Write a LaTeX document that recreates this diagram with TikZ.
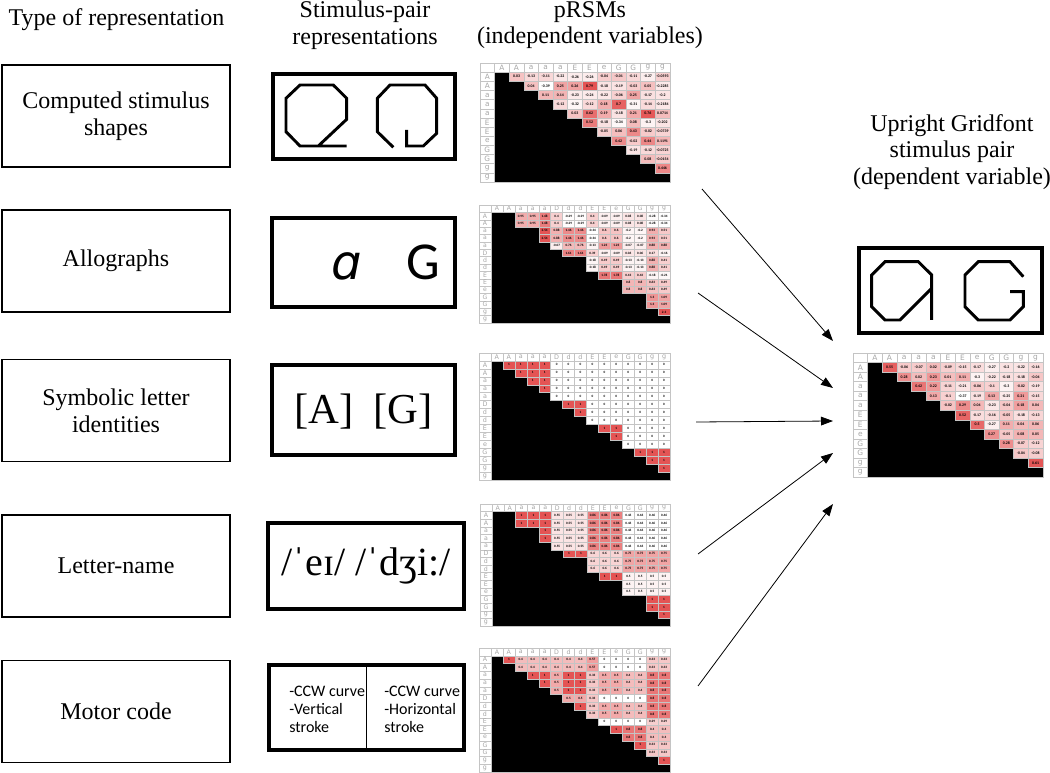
\documentclass[tikz,border=0pt]{standalone}
\usepackage{fontspec}
\setmainfont{Liberation Serif}
\newfontfamily\calib{Carlito}
\newfontfamily\dvs{DejaVu Sans}
\usetikzlibrary{arrows.meta}
\definecolor{cellred}{RGB}{228,84,84}
\definecolor{gridgray}{RGB}{196,196,196}

\def\itemsA{A,A,a,a,a,E,E,e,G,G,g,g}
\def\itemsB{A,A,a,a,a,D,d,d,E,E,e,G,G,g,g}

\newcommand\rsmframe[2]{%
  \fill (\cw,\ch) rectangle ({(#1+1)*\cw},{(#1+1)*\ch});
  \draw[gridgray,line width=0.3pt] (0,0) rectangle ++(\cw,\ch);
  \foreach \l [count=\k] in #2 {
    \draw[gridgray,line width=0.3pt] (\k*\cw,0) rectangle ++(\cw,\ch) (0,\k*\ch) rectangle ++(\cw,\ch);
    \node[cellhead] (\mname-h\k) at ({(\k+0.5)*\cw},{0.5*\ch}) {\l};
    \node[cellhead] (\mname-r\k) at ({0.5*\cw},{(\k+0.5)*\ch}) {\l};
  }
  \draw[gridgray,line width=0.4pt] (0,0) rectangle ({(#1+1)*\cw},{(#1+1)*\ch});
}
\newcommand\mrow[3]{%
  \foreach \v [count=\c from #2] in {#3} {
    \pgfmathtruncatemacro\pct{max(0,min(100,((\v)-(\lo))/((\hi)-(\lo))*100))}
    \draw[gridgray,line width=0.3pt,fill=cellred!\pct!white] (\c*\cw,#1*\ch) rectangle ++(\cw,\ch);
    \node[cellval] (\mname-#1-\c) at ({(\c+0.5)*\cw},{(#1+0.5)*\ch}) {\v};
  }
}

\begin{document}
\begin{tikzpicture}[x=0.75pt,y=-0.75pt,
  hdr/.style={align=center,font=\fontsize{18}{20}\selectfont},
  typebox/.style={draw,line width=0.9pt,minimum width=171pt,minimum height=76.5pt,align=center,font=\fontsize{18}{20}\selectfont},
  stimbox/.style={draw,line width=3pt,inner sep=0pt},
  glyph/.style={line width=2.2pt,miter limit=4},
  motor/.style={align=left,inner sep=0pt,font=\calib\fontsize{12}{13.5}\selectfont},
  cellhead/.style={inner sep=0pt,text=gray!70,font=\dvs\fontsize{\lsize}{\lsize}\selectfont},
  cellval/.style={inner sep=0pt,font=\calib\bfseries\fontsize{\vsize}{\vsize}\selectfont},
  link/.style={-{Triangle[length=9pt,width=6.5pt]},line width=0.6pt}]
\useasboundingbox (0,0) rectangle (1050,773);

\node[hdr,anchor=west] (h1) at (4,20) {Type of representation};
\node[hdr] (h2) at (365,25) {Stimulus-pair\\representations};
\node[hdr] (h3) at (590,25) {pRSMs\\(independent variables)};
\node[hdr] (h4) at (952,152) {Upright Gridfont\\stimulus pair\\(dependent variable)};

\node[typebox] (t1) at (116,116) {Computed stimulus\\shapes};
\node[typebox] (t2) at (116,261) {Allographs};
\node[typebox] (t3) at (116,410.5) {Symbolic letter\\identities};
\node[typebox] (t4) at (116,566) {Letter-name};
\node[typebox] (t5) at (116,711.5) {Motor code};

\node[stimbox,minimum width=136.5pt,minimum height=63.75pt] (s1) at (364,116.5) {};
\draw[glyph] (346.7,146) -- (300,146) -- (286,131.7) -- (286,98.3) -- (300,85) -- (333.3,85) -- (346.7,98.3) -- (346.7,119.3) -- (318.3,146);
\draw[glyph] (393.3,147.3) -- (377.3,131.7) -- (377.3,98.3) -- (390,85) -- (425,85) -- (436.7,98.3) -- (436.7,133.3) -- (423.3,146) -- (406.7,146) -- (406.7,130);

\node[stimbox,minimum width=137pt,minimum height=66.75pt] (s2) at (363.5,262.5) {};
\node[anchor=base] (s2a) at (347,280) {\dvs\itshape\fontsize{36}{36}\selectfont ɑ};
\node[anchor=base] (s2g) at (423,280) {\calib\fontsize{40}{40}\selectfont G};

\node[stimbox,minimum width=137pt,minimum height=67.5pt] (s3) at (363.5,410) {};
\node (s3t) at (363.5,412) {\fontsize{32}{32}\selectfont [A]\hspace{0.45em}[G]};

\node[stimbox,minimum width=147pt,minimum height=64.5pt] (s4) at (366,566) {};
\node (s4t) at (366,566) {\fontsize{30}{30}\selectfont /ˈeɪ/ /ˈdʒi:/};

\node[stimbox,minimum width=146pt,minimum height=63.75pt] (s5) at (366.5,707.5) {};
\draw[line width=1.2pt] (s5.north) -- (s5.south);
\node[motor,anchor=west] (s5l) at (289,709) {-CCW curve\\-Vertical\\stroke};
\node[motor,anchor=west] (s5r) at (384,709) {-CCW curve\\-Horizontal\\stroke};

\node[stimbox,minimum width=137pt,minimum height=63.75pt] (dv) at (950.5,290.5) {};
\draw[glyph] (931.7,320) -- (931.7,275) -- (918.3,261.7) -- (885,261.7) -- (871.7,275) -- (871.7,306.7) -- (885,320) -- (900,320) -- (931.7,288.3);
\draw[glyph] (1023.3,276.7) -- (1010,261.7) -- (978.3,261.7) -- (965,275) -- (965,306.7) -- (978.3,320) -- (1010,320) -- (1023.3,306.7) -- (1023.3,291.7) -- (1010,291.7);

\begin{scope}[shift={(480,63)}]
\def\mname{ma}\def\cw{14.6}\def\ch{9.15}\def\lo{-0.39}\def\hi{0.79}\def\vsize{2.9}\def\lsize{5.5}
\rsmframe{12}{\itemsA}
\mrow{1}{2}{0.03,-0.13,-0.11,-0.22,-0.26,-0.26,-0.04,-0.01,-0.11,-0.27,-0.0593}
\mrow{2}{3}{0.04,-0.39,0.25,0.26,0.79,-0.18,-0.19,-0.03,0.05,-0.2285}
\mrow{3}{4}{0.11,0.14,-0.23,-0.24,-0.22,-0.06,0.25,-0.17,-0.2}
\mrow{4}{5}{-0.12,-0.32,-0.12,0.18,0.7,-0.31,-0.14,-0.2184}
\mrow{5}{6}{0.03,0.62,0.19,-0.18,0.21,0.76,0.0714}
\mrow{6}{7}{0.52,-0.18,-0.34,0.08,-0.3,-0.202}
\mrow{7}{8}{-0.05,0.06,0.43,-0.02,-0.0739}
\mrow{8}{9}{0.42,-0.02,0.44,0.1191}
\mrow{9}{10}{-0.19,-0.12,-0.0725}
\mrow{10}{11}{0.08,-0.0154}
\mrow{11}{12}{0.446}
\end{scope}

\begin{scope}[shift={(479,205)}]
\def\mname{mb}\def\cw{11.94}\def\ch{7.375}\def\lo{-0.34}\def\hi{2.3}\def\vsize{2.5}\def\lsize{4.6}
\rsmframe{15}{\itemsB}
\mrow{1}{3}{0.95,0.95,1.68,0.4,-0.29,-0.29,0.4,-0.09,-0.09,0.08,0.08,-0.28,-0.34}
\mrow{2}{3}{0.95,0.95,1.68,0.4,-0.29,-0.29,0.4,-0.09,-0.09,0.08,0.08,-0.28,-0.34}
\mrow{3}{5}{2.54,0.88,1.46,1.46,-0.34,0.6,0.6,-0.2,-0.2,0.93,0.51}
\mrow{4}{5}{2.54,0.88,1.46,1.46,-0.34,0.6,0.6,-0.2,-0.2,0.93,0.51}
\mrow{5}{6}{-0.07,0.76,0.76,-0.13,1.23,1.23,-0.07,-0.07,0.88,0.88}
\mrow{6}{7}{1.61,1.61,0.39,-0.09,-0.09,0.06,0.06,0.17,-0.16}
\mrow{7}{9}{-0.18,0.49,0.49,-0.13,-0.13,0.88,0.41}
\mrow{8}{9}{-0.18,0.49,0.49,-0.13,-0.13,0.88,0.41}
\mrow{9}{10}{1.78,1.78,0.43,0.43,-0.18,-0.21}
\mrow{10}{12}{0.8,0.8,0.63,0.49}
\mrow{11}{12}{0.8,0.8,0.63,0.49}
\mrow{12}{14}{1.3,1.09}
\mrow{13}{14}{1.3,1.09}
\mrow{14}{15}{2.3}
\end{scope}

\begin{scope}[shift={(479,353)}]
\def\mname{mc}\def\cw{11.94}\def\ch{7.94}\def\lo{0}\def\hi{1}\def\vsize{2.5}\def\lsize{4.8}
\rsmframe{15}{\itemsB}
\mrow{1}{2}{1,1,1,1,0,0,0,0,0,0,0,0,0,0}
\mrow{2}{3}{1,1,1,0,0,0,0,0,0,0,0,0,0}
\mrow{3}{4}{1,1,0,0,0,0,0,0,0,0,0,0}
\mrow{4}{5}{1,0,0,0,0,0,0,0,0,0,0}
\mrow{5}{6}{0,0,0,0,0,0,0,0,0,0}
\mrow{6}{7}{1,1,0,0,0,0,0,0,0}
\mrow{7}{8}{1,0,0,0,0,0,0,0}
\mrow{8}{9}{0,0,0,0,0,0,0}
\mrow{9}{10}{1,1,0,0,0,0}
\mrow{10}{11}{1,0,0,0,0}
\mrow{11}{12}{0,0,0,0}
\mrow{12}{13}{1,1,1}
\mrow{13}{14}{1,1}
\mrow{14}{15}{1}
\end{scope}

\begin{scope}[shift={(480,504)}]
\def\mname{md}\def\cw{11.875}\def\ch{7.625}\def\lo{0.46}\def\hi{1}\def\vsize{2.5}\def\lsize{4.7}
\rsmframe{15}{\itemsB}
\mrow{1}{3}{1,1,1,0.55,0.55,0.55,0.86,0.86,0.86,0.46,0.46,0.46,0.46}
\mrow{2}{3}{1,1,1,0.55,0.55,0.55,0.86,0.86,0.86,0.46,0.46,0.46,0.46}
\mrow{3}{5}{1,0.55,0.55,0.55,0.86,0.86,0.86,0.46,0.46,0.46,0.46}
\mrow{4}{5}{1,0.55,0.55,0.55,0.86,0.86,0.86,0.46,0.46,0.46,0.46}
\mrow{5}{6}{0.55,0.55,0.55,0.86,0.86,0.86,0.46,0.46,0.46,0.46}
\mrow{6}{7}{1,1,0.6,0.6,0.6,0.75,0.75,0.75,0.75}
\mrow{7}{9}{0.6,0.6,0.6,0.75,0.75,0.75,0.75}
\mrow{8}{9}{0.6,0.6,0.6,0.75,0.75,0.75,0.75}
\mrow{9}{10}{1,1,0.5,0.5,0.5,0.5}
\mrow{10}{12}{0.5,0.5,0.5,0.5}
\mrow{11}{12}{0.5,0.5,0.5,0.5}
\mrow{12}{14}{1,1}
\mrow{13}{14}{1,1}
\mrow{14}{15}{1}
\end{scope}

\begin{scope}[shift={(479,648)}]
\def\mname{me}\def\cw{11.94}\def\ch{7.75}\def\lo{0}\def\hi{1}\def\vsize{2.5}\def\lsize{4.7}
\rsmframe{15}{\itemsB}
\mrow{1}{2}{1,0.4,0.4,0.4,0.4,0.4,0.4,0.57,0,0,0,0,0.33,0.33}
\mrow{2}{3}{0.4,0.4,0.4,0.4,0.4,0.4,0.57,0,0,0,0,0.33,0.33}
\mrow{3}{4}{1,1,0.5,1,1,0.33,0.5,0.5,0.4,0.4,0.8,0.8}
\mrow{4}{5}{1,0.5,1,1,0.33,0.5,0.5,0.4,0.4,0.8,0.8}
\mrow{5}{6}{0.5,1,1,0.33,0.5,0.5,0.4,0.4,0.8,0.8}
\mrow{6}{7}{0.5,0.5,0.33,0,0,0,0,0.8,0.8}
\mrow{7}{8}{1,0.33,0.5,0.5,0.4,0.4,0.8,0.8}
\mrow{8}{9}{0.33,0.5,0.5,0.4,0.4,0.8,0.8}
\mrow{9}{10}{0,0,0,0,0.29,0.29}
\mrow{10}{11}{1,0.8,0.8,0.4,0.4}
\mrow{11}{12}{0.8,0.8,0.4,0.4}
\mrow{12}{13}{1,0.33,0.33}
\mrow{13}{14}{0.33,0.33}
\mrow{14}{15}{1}
\end{scope}

\begin{scope}[shift={(853,353)}]
\def\mname{mr}\def\cw{14.6}\def\ch{9.54}\def\lo{-0.37}\def\hi{0.61}\def\vsize{2.9}\def\lsize{5.6}
\rsmframe{12}{\itemsA}
\mrow{1}{2}{0.55,-0.06,-0.07,0.02,-0.09,-0.15,-0.17,-0.27,-0.2,-0.22,-0.16}
\mrow{2}{3}{0.28,0.02,0.23,0.01,0.11,-0.3,-0.22,-0.18,-0.18,-0.04}
\mrow{3}{4}{0.42,0.22,-0.11,-0.21,-0.06,-0.1,-0.3,-0.02,-0.19}
\mrow{4}{5}{0.13,-0.1,-0.37,-0.19,0.13,-0.25,0.21,-0.15}
\mrow{5}{6}{-0.02,0.29,0.04,-0.23,-0.04,0.18,0.04}
\mrow{6}{7}{0.52,-0.17,-0.16,-0.05,-0.18,-0.13}
\mrow{7}{8}{0.5,-0.27,0.11,0.04,0.06}
\mrow{8}{9}{0.27,-0.05,0.08,0.05}
\mrow{9}{10}{0.28,-0.07,-0.12}
\mrow{10}{11}{-0.04,-0.08}
\mrow{11}{12}{0.61}
\end{scope}

\coordinate (a1) at (702,189);
\coordinate (a2) at (698,293);
\coordinate (a3) at (696,422);
\coordinate (a4) at (698,554);
\coordinate (a5) at (698,686);
\coordinate (b1) at (833,341);
\coordinate (b2) at (833,388);
\coordinate (b3) at (833,421);
\coordinate (b4) at (833,453);
\coordinate (b5) at (833,504);
\foreach \i in {1,...,5} \draw[link] (a\i) -- (b\i);
\end{tikzpicture}
\end{document}
